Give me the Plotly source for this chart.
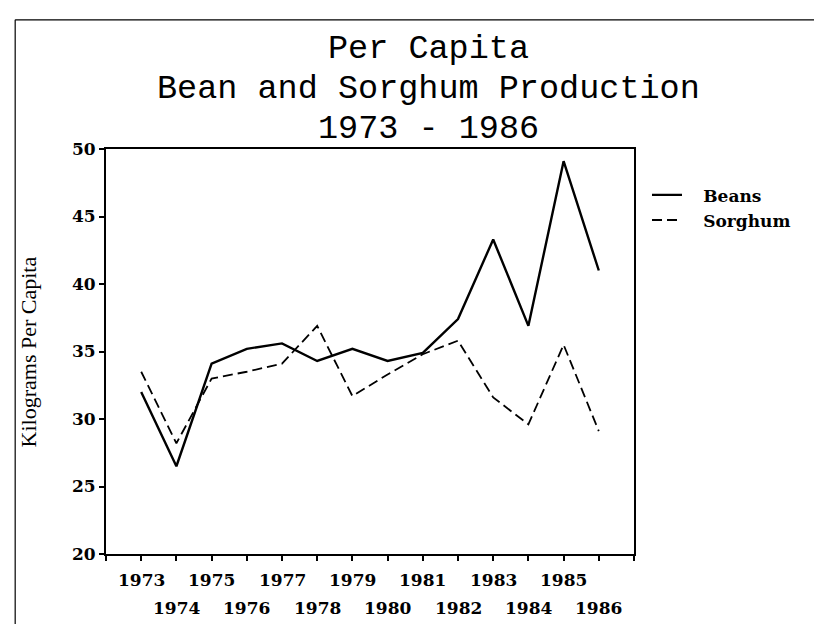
import plotly.graph_objects as go

years = list(range(1973, 1987))
beans = [32.0, 26.5, 34.1, 35.2, 35.6, 34.3, 35.2, 34.3, 34.9, 37.4, 43.3, 36.9, 49.1, 41.0]
sorghum = [33.5, 28.2, 33.0, 33.5, 34.1, 36.9, 31.7, 33.3, 34.8, 35.8, 31.6, 29.6, 35.5, 29.1]
yticks = [20, 25, 30, 35, 40, 45, 50]
title_lines = ["Per Capita", "Bean and Sorghum Production", "1973 - 1986"]
y_title = "Kilograms Per Capita"

TICKFONT = dict(family="DejaVu Serif", size=17, color="black")
NB = "\u00a0"

fig = go.Figure()
fig.add_trace(go.Scatter(x=years, y=beans, mode="lines", name=NB * 3 + "<b>Beans</b>",
                         line=dict(color="black", width=2.4)))
fig.add_trace(go.Scatter(x=years, y=sorghum, mode="lines", name=NB * 3 + "<b>Sorghum</b>",
                         line=dict(color="black", width=1.8, dash="10px,5px")))

ann = []
ty = [1.247, 1.148, 1.049]
for t, yy in zip(title_lines, ty):
    ann.append(dict(text=t, x=0.61, y=yy, xref="paper", yref="paper", showarrow=False,
                    xanchor="center", yanchor="middle", borderpad=0,
                    font=dict(family="Liberation Mono", size=33.5, color="black")))
for i, yr in enumerate(years):
    ann.append(dict(text="<b>%d</b>" % yr, x=yr, y=(-0.064 if i % 2 == 0 else -0.133),
                    xref="x", yref="paper", showarrow=False, xanchor="center", yanchor="middle",
                    font=TICKFONT))
ann.append(dict(text=y_title, x=-0.146, y=0.5, xref="paper", yref="paper", showarrow=False,
                textangle=-90, xanchor="center", yanchor="middle",
                font=dict(family="Liberation Serif", size=22, color="black")))

shapes = [
    dict(type="line", xref="paper", yref="paper", x0=-0.172, x1=1.371, y0=1.319, y1=1.319,
         line=dict(color="black", width=1.2)),
    dict(type="line", xref="paper", yref="paper", x0=-0.172, x1=-0.172, y0=1.319, y1=-0.183,
         line=dict(color="black", width=1.2)),
    dict(type="line", xref="paper", yref="paper", x0=-0.172, x1=0.93, y0=-0.183, y1=-0.183,
         line=dict(color="black", width=1.2)),
]

fig.update_layout(
    width=822, height=624,
    margin=dict(l=98, r=196, t=141, b=78),
    paper_bgcolor="white", plot_bgcolor="white",
    annotations=ann, shapes=shapes,
    showlegend=True,
    legend=dict(x=1.0246, y=0.93, xanchor="left", yanchor="top", bgcolor="rgba(0,0,0,0)",
                font=dict(family="DejaVu Serif", size=17, color="black"),
                itemwidth=30, tracegroupgap=0),
    xaxis=dict(range=[1972, 1987], tickvals=list(range(1972, 1988)), showticklabels=False,
               ticks="outside", ticklen=5, tickwidth=1.5, tickcolor="black",
               showline=True, linecolor="black", linewidth=2, mirror=True,
               showgrid=False, zeroline=False),
    yaxis=dict(range=[20, 50], tickvals=yticks, ticktext=["<b>%d</b>" % v for v in yticks],
               ticks="outside", ticklen=5, tickwidth=1.5, tickcolor="black",
               tickfont=TICKFONT,
               showline=True, linecolor="black", linewidth=2, mirror=True,
               showgrid=False, zeroline=False),
)

fig.write_html("out.html")
